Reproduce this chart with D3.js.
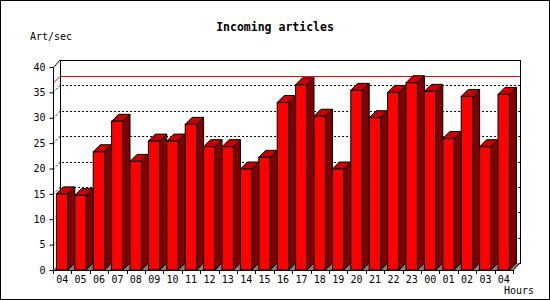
<!DOCTYPE html>
<html>
<head>
<meta charset="utf-8">
<script src="https://cdn.jsdelivr.net/npm/d3@7"></script>
<style>
  body { margin: 0; background: #fff; }
  svg text { font-family: "DejaVu Sans Mono", monospace; }
</style>
</head>
<body>
<svg id="chart" width="550" height="300"></svg>
<script>
// data
var hours = ["04","05","06","07","08","09","10","11","12","13","14","15","16","17","18","19","20","21","22","23","00","01","02","03","04"];
var rates = [15.0,14.7,23.3,29.3,21.4,25.4,25.4,28.7,24.3,24.3,19.9,22.2,33.0,36.5,30.3,19.9,35.4,30.0,35.0,36.9,35.2,25.9,34.2,24.3,34.6];
var yTicks = [0,5,10,15,20,25,30,35,40];

var W = 550, H = 300;
var plot = { left:53, right:513, top:67, bottom:270 };
var depth = 7;

var svg = d3.select("#chart");

// outer border
svg.append("rect")
    .attr("x", 0.5).attr("y", 0.5)
    .attr("width", W - 1).attr("height", H - 1)
    .attr("fill", "#fff").attr("stroke", "#000");

// scales
var x = d3.scaleBand()
    .domain(d3.range(hours.length))
    .range([plot.left, plot.right]);

var y = d3.scaleLinear()
    .domain([0, 40])
    .range([plot.bottom, plot.top]);

// back wall
svg.append("rect")
    .attr("x", plot.left + depth + 0.5).attr("y", plot.top - depth + 0.5)
    .attr("width", plot.right - plot.left).attr("height", plot.bottom - plot.top)
    .attr("fill", "#fff").attr("stroke", "#000");

// floor
svg.append("path")
    .attr("d", "M" + plot.left + "," + plot.bottom + "L" + (plot.left + depth) + "," + (plot.bottom - depth) +
               "L" + (plot.right + depth) + "," + (plot.bottom - depth) + "L" + plot.right + "," + plot.bottom + "Z")
    .attr("fill", "#808080");

// grid lines (dotted)
svg.append("g").selectAll("path")
    .data(yTicks.filter(function(d){ return d > 0 && d < 40; }))
    .enter().append("path")
        .attr("d", function(d){
            var yy = Math.round(y(d)) + 0.5;
            return "M" + plot.left + "," + yy + "L" + (plot.left + depth) + "," + (yy - depth) + "L" + (plot.right + depth) + "," + (yy - depth);
        })
        .attr("fill", "none")
        .attr("stroke", "#000")
        .attr("stroke-dasharray", "2,2");

// max line
var ymax = Math.round(y(d3.max(rates))) + 0.5;
svg.append("path")
    .attr("d", "M" + plot.left + "," + ymax + "L" + (plot.left + depth) + "," + (ymax - depth) + "L" + (plot.right + depth) + "," + (ymax - depth))
    .attr("fill", "none")
    .attr("stroke", "#f00");

// bars
var bw = 11.4, off = 3.4;
var bars = svg.append("g").selectAll("g")
    .data(rates)
    .enter().append("g");

bars.append("path")   // side
    .attr("d", function(d, i){
        var x1 = x(i) + off + bw, yt = y(d);
        return "M" + x1 + "," + yt + "L" + (x1 + depth) + "," + (yt - depth) +
               "L" + (x1 + depth) + "," + (plot.bottom - depth) + "L" + x1 + "," + plot.bottom + "Z";
    })
    .attr("fill", "#800000").attr("stroke", "#000");

bars.append("path")   // top
    .attr("d", function(d, i){
        var x0 = x(i) + off, yt = y(d);
        return "M" + x0 + "," + yt + "L" + (x0 + depth) + "," + (yt - depth) +
               "L" + (x0 + bw + depth) + "," + (yt - depth) + "L" + (x0 + bw) + "," + yt + "Z";
    })
    .attr("fill", "#c80000").attr("stroke", "#000");

bars.append("rect")   // front
    .attr("x", function(d, i){ return x(i) + off; })
    .attr("y", function(d){ return y(d); })
    .attr("width", bw)
    .attr("height", function(d){ return plot.bottom - y(d); })
    .attr("fill", "#f00").attr("stroke", "#000");

// front axis lines
svg.append("path")
    .attr("d", "M" + (plot.left + depth) + "," + (plot.top - depth) + "L" + (plot.left + 0.5) + "," + (plot.top + 0.5) +
               "L" + (plot.left + 0.5) + "," + (plot.bottom + 0.5) + "L" + plot.right + "," + (plot.bottom + 0.5) +
               "L" + (plot.right + depth) + "," + (plot.bottom - depth))
    .attr("fill", "none").attr("stroke", "#000");

// Y axis
var yAxisCall = d3.axisLeft(y)
    .tickValues(yTicks)
    .tickSize(4)
    .tickSizeOuter(0)
    .tickPadding(4);
var yAxis = svg.append("g")
    .attr("transform", "translate(" + (plot.left + 0.5) + ",0)")
    .call(yAxisCall);
yAxis.select(".domain").remove();
yAxis.selectAll("text").attr("font-size", "10px").attr("font-family", "DejaVu Sans Mono").attr("fill", "#000");

// X axis (labels at centres, ticks at band edges)
var xAxisCall = d3.axisBottom(x)
    .tickFormat(function(i){ return hours[i]; })
    .tickSize(0)
    .tickPadding(6);
var xAxis = svg.append("g")
    .attr("transform", "translate(0," + plot.bottom + ")")
    .call(xAxisCall);
xAxis.select(".domain").remove();
xAxis.selectAll("text").attr("font-size", "10px").attr("font-family", "DejaVu Sans Mono").attr("fill", "#000");

svg.append("g").selectAll("line")
    .data(d3.range(hours.length + 1))
    .enter().append("line")
        .attr("x1", function(i){ return Math.round(plot.left + i * x.step()) + 0.5; })
        .attr("x2", function(i){ return Math.round(plot.left + i * x.step()) + 0.5; })
        .attr("y1", plot.bottom)
        .attr("y2", plot.bottom + 4)
        .attr("stroke", "#000");

// title and labels
svg.append("text")
    .attr("x", 275).attr("y", 30.5)
    .attr("text-anchor", "middle")
    .attr("font-size", "11.5px")
    .attr("font-weight", "bold")
    .text("Incoming articles");

svg.append("text")
    .attr("x", 30).attr("y", 40)
    .attr("font-size", "10px")
    .text("Art/sec");

svg.append("text")
    .attr("x", 534).attr("y", 294)
    .attr("text-anchor", "end")
    .attr("font-size", "10px")
    .text("Hours");
</script>
</body>
</html>
